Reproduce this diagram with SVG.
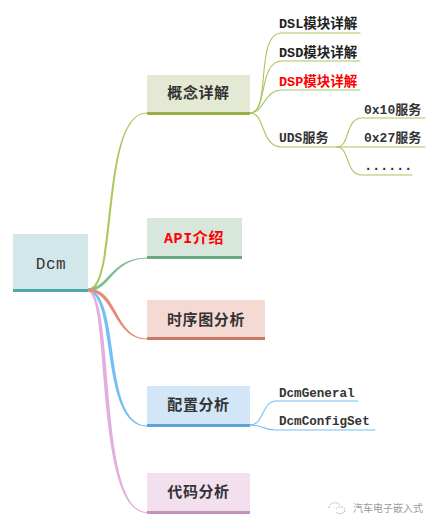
<svg xmlns="http://www.w3.org/2000/svg" width="435" height="527" viewBox="0 0 435 527">
<style>
text{font-family:"Liberation Mono","Noto Sans CJK SC",monospace;font-weight:bold;fill:#333}
.n{font-size:15px;text-anchor:middle;letter-spacing:.6px}
.l{font-size:13.5px;fill:#222}
.s{font-size:13px;fill:#333}
.d{font-size:12.6px;fill:#333}
.r{fill:#f00}
.c{fill:none;stroke-linecap:round}
.g{stroke:#a9c65d;stroke-width:1.1}
.b{stroke:#74bdf0;stroke-width:1.1}
</style>
<g id="connectors">
<path d="M88 288.500C117 288 99 113 147 112.500L147 113.500C101 113 120 291 88 291.500Z" fill="#abc95a"/>
<path d="M88 288.500C109 288 110 258 147 257.500L147 258.500C112 259 111 291 88 291.500Z" fill="#7fbf93"/>
<path d="M88 291.500C117 296 99 426 147 426.500L147 425.500C102 425 122 292 88 289.500Z" fill="#73bff3"/>
<path d="M88 291.500C110 296 94 513 147 513L147 512C97 512 116 292 88 289.500Z" fill="#e2aedb"/>
<path d="M88 288.500C118 288 115 338 147 338.500L147 339.500C113 339 115 292 88 291.500Z" fill="#e58e75"/>
<g class="c g">
<path d="M250 113C272 113 254 33 282 33H360"/>
<path d="M250 113C268 113 258 61 282 61H360"/>
<path d="M250 113C264 113 264 90 282 90H360"/>
<path d="M250 113C266 113 260 147 282 147H337"/>
<path d="M337 147C350 147 345 118 362 118H425"/>
<path d="M337 147H425"/>
<path d="M337 147C350 147 345 175 362 175H412"/>
</g>
<g class="c b">
<path d="M250 425C264 425 262 401 276 401H358"/>
<path d="M250 425C264 425 262 430 276 430H375"/>
</g>
</g>
<g id="root"><rect x="13" y="234" width="75" height="57" fill="#d1e7e9"/><rect x="13" y="289" width="75" height="3" fill="#4ba9a8"/><text class="n" x="51" y="269" style="font-size:16px;font-weight:normal">Dcm</text></g>
<g id="n1"><rect x="147" y="75" width="103" height="39" fill="#e3e9d2"/><rect x="147" y="112" width="103" height="3" fill="#97b146"/><text class="n" x="198.500" y="98">概念详解</text></g>
<g id="n2"><rect x="147" y="218" width="95" height="40" fill="#d8e7dc"/><rect x="147" y="256" width="95" height="3" fill="#6aa97e"/><text class="n r" x="194" y="243">API介绍</text></g>
<g id="n3"><rect x="147" y="300" width="118" height="39" fill="#f5dad4"/><rect x="147" y="337" width="118" height="3" fill="#c97a64"/><text class="n" x="206" y="325">时序图分析</text></g>
<g id="n4"><rect x="147" y="386" width="103" height="40" fill="#d3e6f8"/><rect x="147" y="424" width="103" height="3" fill="#5ba4d9"/><text class="n" x="198.500" y="410">配置分析</text></g>
<g id="n5"><rect x="147" y="473" width="103" height="40" fill="#f2e0ef"/><rect x="147" y="511" width="103" height="3" fill="#c493bd"/><text class="n" x="198.500" y="497">代码分析</text></g>
<g id="l1"><text class="l" x="279" y="28">DSL模块详解</text></g>
<g id="l2"><text class="l" x="279" y="57">DSD模块详解</text></g>
<g id="l3"><text class="l r" x="279" y="86">DSP模块详解</text></g>
<g id="l4"><text class="s" x="279" y="142">UDS服务</text></g>
<g id="l5"><text class="s" x="364" y="114">0x10服务</text></g>
<g id="l6"><text class="s" x="364" y="142">0x27服务</text></g>
<g id="l7"><text class="s" x="364" y="170" style="font-size:14px;letter-spacing:-.4px">......</text></g>
<g id="l8"><text class="d" x="279" y="397">DcmGeneral</text></g>
<g id="l9"><text class="d" x="279" y="425">DcmConfigSet</text></g>
<g id="watermark" opacity=".75"><path d="M329 508a6 5 0 0 1 11-3M336 512a5 4 0 0 0 9-3a5 4 0 0 0-9 0" fill="none" stroke="#999" stroke-dasharray="2 1"/><text x="353" y="512" style="font-size:10px;font-weight:normal;font-family:'Noto Sans CJK SC',sans-serif;fill:#777">汽车电子嵌入式</text></g>
</svg>
